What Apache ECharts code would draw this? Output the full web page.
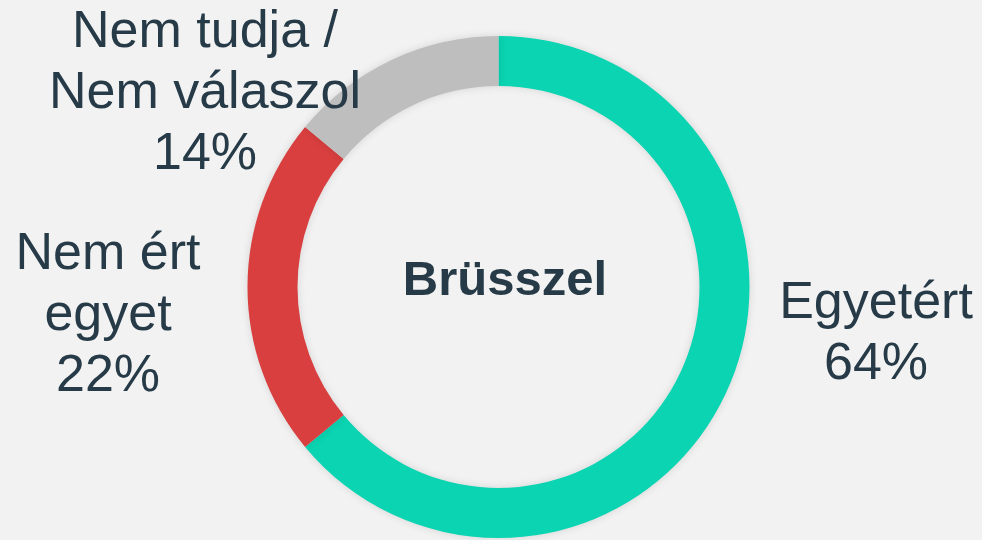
<!DOCTYPE html>
<html>
<head>
<meta charset="utf-8">
<script src="https://cdn.jsdelivr.net/npm/echarts@6/dist/echarts.min.js"></script>
<style>
  html, body { margin: 0; padding: 0; background: #f2f2f2; }
  #chart { width: 982px; height: 540px; }
</style>
</head>
<body>
<div id="chart"></div>
<script>
// adatok
const categories = ['Egyetért', 'Nem ért\negyet', 'Nem tudja /\nNem válaszol']
const values = [64, 22, 14]
const colors = ['#0ad4b1', '#d93f3f', '#bebebe']
const centerText = 'Brüsszel'

// címkék helye (középpont)
const labelPos = [[876, 334], [108, 316], [205, 94]]

const chart = echarts.init(document.getElementById('chart'))

const option = {
  backgroundColor: '#f2f2f2',
  animation: false,
  graphic: [
    {
      type: 'text',
      x: 505,
      y: 281,
      style: {
        text: centerText,
        fontFamily: 'Liberation Sans, Arial, sans-serif',
        fontWeight: 'bold',
        fontSize: 49,
        fill: '#263b47',
        align: 'center',
        verticalAlign: 'middle'
      }
    }
  ],
  series: [
    {
      type: 'pie',
      center: [498.5, 287],
      radius: [201, 251],
      startAngle: 90,
      clockwise: true,
      avoidLabelOverlap: false,
      silent: true,
      itemStyle: {
        shadowBlur: 8,
        shadowColor: 'rgba(0,0,0,0.12)'
      },
      label: {
        show: true,
        position: 'outside',
        formatter: '{b}\n{c}%',
        fontFamily: 'Liberation Sans, Arial, sans-serif',
        fontSize: 52,
        lineHeight: 61,
        color: '#263b47',
        align: 'center'
      },
      labelLine: { show: false },
      labelLayout: (params) => ({
        x: labelPos[params.dataIndex][0],
        y: labelPos[params.dataIndex][1],
        align: 'center',
        verticalAlign: 'middle'
      }),
      data: categories.map((name, i) => ({
        name: name,
        value: values[i],
        itemStyle: { color: colors[i] }
      }))
    }
  ]
}

chart.setOption(option)
</script>
</body>
</html>
